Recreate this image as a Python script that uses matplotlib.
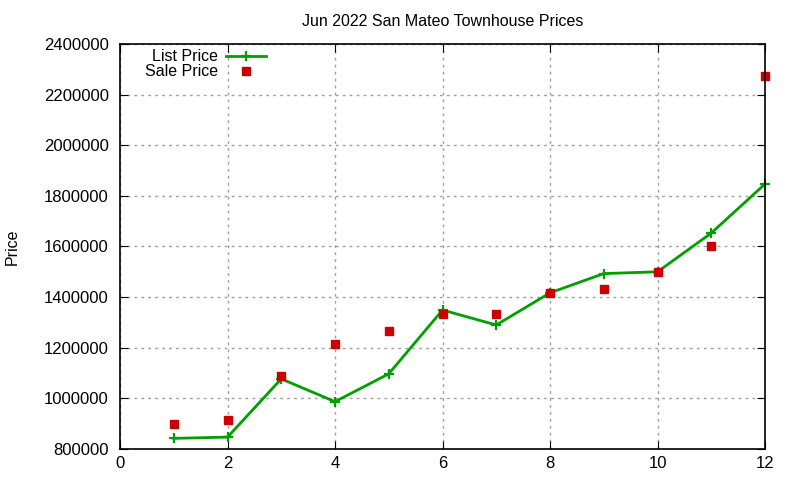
import matplotlib
matplotlib.use("Agg")
import matplotlib.pyplot as plt

plt.rcParams["font.family"] = ["Liberation Sans", "DejaVu Sans"]

months = [1, 2, 3, 4, 5, 6, 7, 8, 9, 10, 11, 12]
list_price = [842000, 847000, 1077000, 987000, 1097000, 1349000, 1290000,
              1417000, 1493000, 1500000, 1653000, 1847000]
sale_price = [899000, 914000, 1087000, 1214000, 1267000, 1334000, 1334000,
              1417000, 1434000, 1501000, 1600000, 2273000]

fig = plt.figure(figsize=(8, 4.8), dpi=100)
ax = fig.add_axes([120 / 800, 1 - 449 / 480, 645 / 800, 405 / 480])

ax.plot(months, list_price, color="#00a000", linewidth=2, marker="+",
        markersize=7, markeredgewidth=1.6, label="List Price", clip_on=False)
ax.plot(months, sale_price, linestyle="none", color="#cc0000", marker="s",
        markersize=5.3, label="Sale Price", clip_on=False)

ax.set_xlim(0, 12)
ax.set_ylim(800000, 2400000)
ax.set_xticks(range(0, 13, 2))
ax.set_yticks(range(800000, 2400001, 200000))
ax.ticklabel_format(style="plain", axis="y", useOffset=False)
ax.tick_params(direction="in", top=True, right=True, length=6,
               labelsize=12)
ax.tick_params(axis="y", pad=8)
ax.tick_params(axis="x", pad=5)
ax.grid(True, color="#a0a0a0", linestyle=(0, (2, 3)), linewidth=1)
for s in ax.spines.values():
    s.set_linewidth(1.2)

ax.set_title("Jun 2022 San Mateo Townhouse Prices", fontsize=11.5, pad=13)
ax.set_ylabel("Price", fontsize=11.5)
ax.yaxis.set_label_coords(-100 / 645, 0.5)

ax.legend(loc="upper left", bbox_to_anchor=(14 / 645, 1.01 + 2 / 405),
          frameon=False, markerfirst=False, fontsize=11.5, handlelength=2.5,
          borderaxespad=0.3, labelspacing=0.02, handletextpad=0.5)

fig.savefig("out.png", dpi=100)
